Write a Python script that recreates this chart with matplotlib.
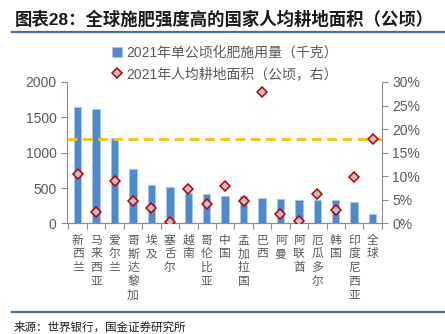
import matplotlib
matplotlib.use("Agg")
import matplotlib.pyplot as plt
import numpy as np

plt.rcParams['font.family'] = ['Liberation Sans', 'Noto Sans CJK SC', 'DejaVu Sans']

# data
countries = ['新西兰', '马来西亚', '爱尔兰', '哥斯达黎加', '埃及', '塞舌尔', '越南', '哥伦比亚',
             '中国', '孟加拉国', '巴西', '阿曼', '阿联酋', '厄瓜多尔', '韩国', '印度尼西亚', '全球']
fert_use = [1640, 1620, 1210, 770, 549, 516, 427, 413,
            393, 393, 360, 342, 328, 328, 328, 308, 139]
land_pc = [10.5, 2.5, 9.0, 4.8, 3.35, 0.25, 7.25, 4.07,
           7.9, 4.8, 27.9, 1.9, 0.57, 6.2, 2.9, 9.8, 18.0]
global_land = 18.0

grey = '#595959'
axcol = '#8c8c8c'

fig = plt.figure(figsize=(4.45, 3.34), dpi=100)
ax = fig.add_axes([0.1506, 0.331, 0.858 - 0.1506, 0.7545 - 0.331])
ax2 = ax.twinx()

x = np.arange(len(countries))
b = ax.bar(x, fert_use, width=0.4, color='#4e8ad1', edgecolor='#a9c6ea', linewidth=0.6,
           label='2021年单公顷化肥施用量（千克）', zorder=2)
ax2.axhline(global_land, color='#ffc000', lw=2, ls=(0, (3.5, 2)), zorder=1)
d, = ax2.plot(x, land_pc, ls='none', marker='D', ms=5.5, mfc='#bfbfbf', mec='#c00000', mew=1.1,
              label='2021年人均耕地面积（公顷，右）', zorder=3)

ax.set_xlim(-0.58, 16.5)
ax.set_ylim(0, 2000)
ax.set_yticks([0, 500, 1000, 1500, 2000])
ax2.set_ylim(0, 30)
ax2.set_yticks([0, 5, 10, 15, 20, 25, 30])
ax2.set_yticklabels([f'{v}%' for v in range(0, 31, 5)])

for a in (ax, ax2):
    a.spines['top'].set_visible(False)
    for s in a.spines.values():
        s.set_color(axcol)
        s.set_linewidth(0.8)
    a.tick_params(axis='y', colors=axcol, labelcolor=grey, labelsize=10, length=4, width=0.8)
ax.spines['right'].set_visible(False)
ax2.spines['left'].set_visible(False)

ax.set_xticks(x)
ax.set_xticklabels(['\n'.join(c) for c in countries], color=grey, fontsize=8.5,
                   linespacing=1.2, va='top')
ax.set_xticks(np.arange(-0.5, 17, 1), minor=True)
ax.tick_params(axis='x', which='major', length=0, pad=8)
ax.tick_params(axis='x', which='minor', length=4, width=0.8, color=axcol)

fig.legend([b, d], [b.get_label(), d.get_label()], loc='center', bbox_to_anchor=(0.505, 0.81),
           frameon=False, fontsize=10, labelcolor=grey, handlelength=0.7, handletextpad=0.3,
           labelspacing=0.55, borderpad=0)

fig.text(0.034, 0.944, '图表28：全球施肥强度高的国家人均耕地面积（公顷）', fontsize=12.5,
         fontweight='bold', color='#1a1a1a', va='center')
fig.add_artist(plt.Line2D([0.027, 1.0], [0.904, 0.904], color='#3a6f9a', lw=1.6))
fig.add_artist(plt.Line2D([0.027, 1.0], [0.066, 0.066], color='#3a6f9a', lw=1.6))
fig.text(0.03, 0.018, '来源：世界银行，国金证券研究所', fontsize=8.3, color='#1a1a1a', va='center')

fig.savefig('out.png', dpi=100)
